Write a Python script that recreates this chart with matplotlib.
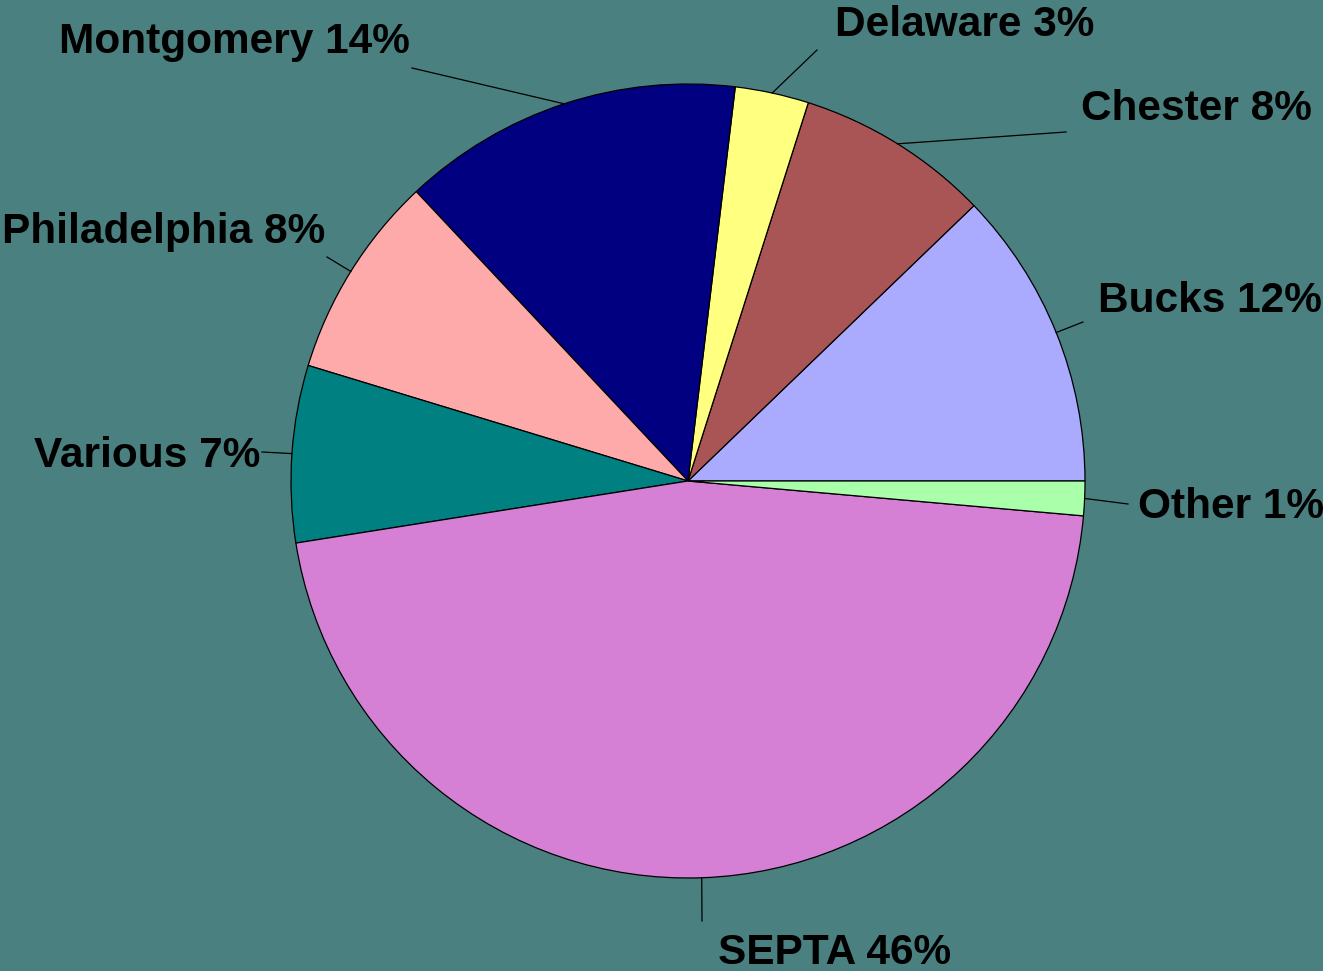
import matplotlib
matplotlib.use("Agg")
import matplotlib.pyplot as plt
import math

# ---- data ----
labels = ["Bucks", "Chester", "Delaware", "Montgomery", "Philadelphia", "Various", "SEPTA", "Other"]
values = [12.2, 7.9, 3.0, 13.9, 8.3, 7.2, 46.1, 1.4]
pct_labels = ["12%", "8%", "3%", "14%", "8%", "7%", "46%", "1%"]
colors = ["#AAAAFF", "#AA5555", "#FFFF80", "#000080", "#FFAAAA", "#008080", "#D580D5", "#AAFFAA"]

# ---- layout (pixel coords, y from top) ----
W, H = 1323, 971
cx, cy, R = 688, 481, 397
# leader line end points and text anchor (x, baseline y, ha)
line_end = [(1083, 322), (1066, 132), (817, 50), (412, 68), (327, 257), (262, 452), (702, 921), (1128, 504)]
text_pos = [(1098, 312, "left"), (1081, 120, "left"), (835, 36, "left"), (410, 53, "right"),
            (325, 243, "right"), (260, 467, "right"), (718, 964, "left"), (1138, 518, "left")]
bg = "#4B8080"

fig = plt.figure(figsize=(W / 100, H / 100), dpi=100, facecolor=bg)
ax = fig.add_axes([0, 0, 1, 1])
ax.set_facecolor(bg)

wedges, _ = ax.pie(values, colors=colors, startangle=0, counterclock=True,
                   center=(cx, H - cy), radius=R,
                   wedgeprops=dict(edgecolor="black", linewidth=0.9))
ax.set_xlim(0, W)
ax.set_ylim(0, H)
ax.set_aspect("equal")
ax.axis("off")

for w, lab, pct, le, tp in zip(wedges, labels, pct_labels, line_end, text_pos):
    mid = math.radians((w.theta1 + w.theta2) / 2)
    x0 = cx + R * math.cos(mid)
    y0 = (H - cy) + R * math.sin(mid)
    ax.plot([x0, le[0]], [y0, H - le[1]], color="black", linewidth=0.9)
    ax.text(tp[0], H - tp[1], f"{lab} {pct}", ha=tp[2], va="baseline",
            fontsize=30.5, fontweight="bold", family="Liberation Sans", color="black")

fig.savefig("out.png", dpi=100, facecolor=bg)
